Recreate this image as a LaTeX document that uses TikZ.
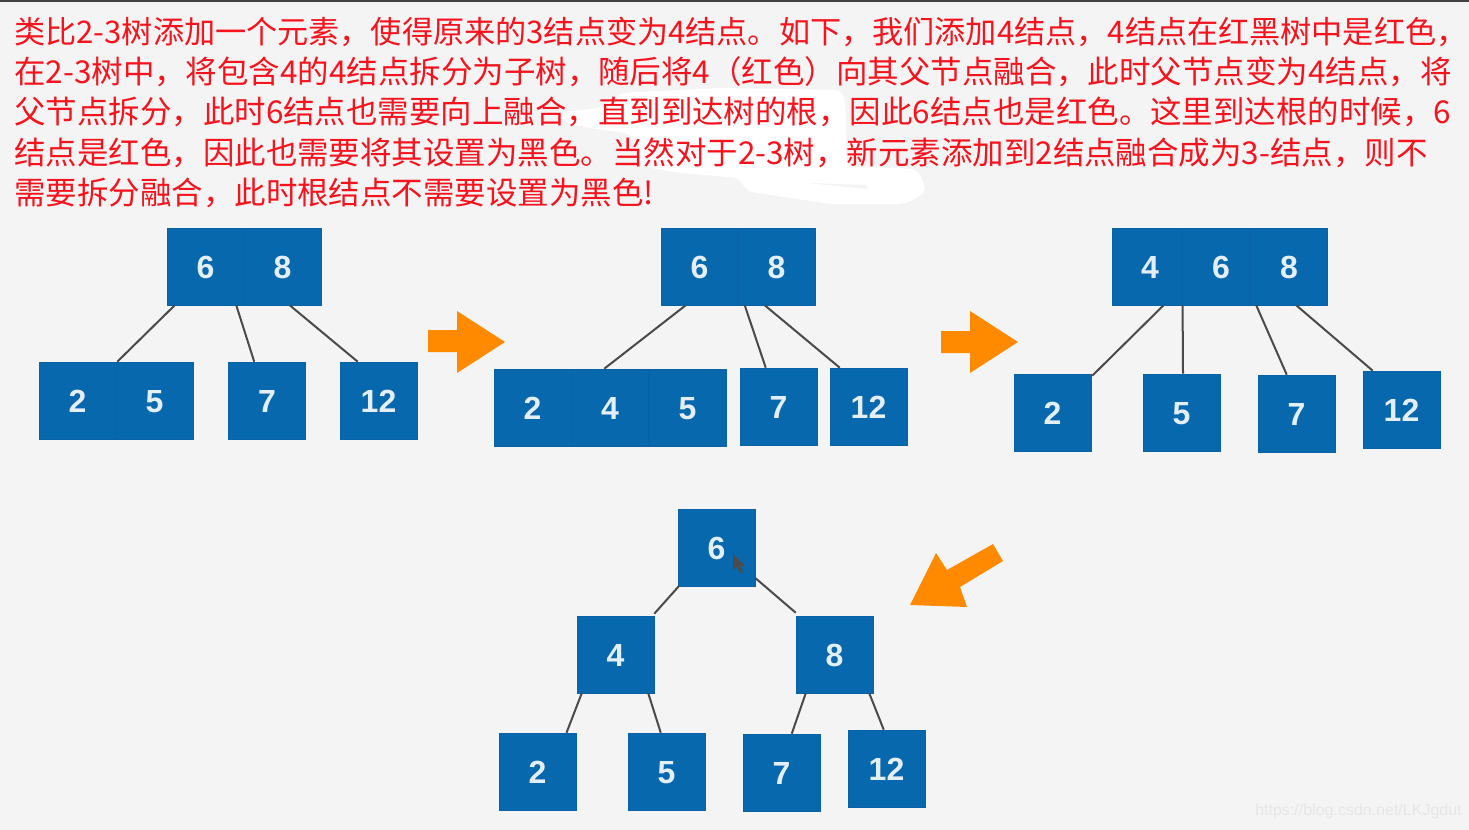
\documentclass[tikz,border=0pt]{standalone}
\usepackage{fontspec}
\setmainfont{Liberation Sans}
\newfontfamily\cjk{Noto Sans CJK SC}
\usetikzlibrary{calc}
\definecolor{pagebg}{HTML}{F4F4F4}
\definecolor{boxblue}{HTML}{0768AE}
\definecolor{boxedge}{HTML}{0A62A6}
\definecolor{digit}{HTML}{E4EEF6}
\definecolor{linkgrey}{HTML}{4A4A4A}
\definecolor{arroworange}{HTML}{FF8A00}
\definecolor{txtred}{HTML}{F5141E}
\definecolor{wmark}{HTML}{E6E6E6}
\tikzset{x=0.75pt,y=-0.75pt,
 cell/.style={draw=boxedge,line width=0.4pt,fill=boxblue,text=digit,minimum width=57.75pt,minimum height=57.75pt,inner sep=0pt,text height=18.7pt,text depth=0pt,font=\fontsize{24}{24}\selectfont\bfseries},
 narrow/.style={cell,minimum width=52pt},
 link/.style={draw=linkgrey,line width=1.5pt},
 bigarrow/.style={fill=arroworange,draw=none},
 para/.style={anchor=west,inner sep=0pt,text=txtred,font=\cjk\fontsize{23.6}{24}\selectfont},
 firstline/.style={para,font=\cjk\fontsize{23.35}{24}\selectfont},
 smear/.style={fill=white,draw=none,rounded corners=6pt},
}
\newcommand{\px}[1]{#1*0.75pt}
\begin{document}
\begin{tikzpicture}
\useasboundingbox (0,0) rectangle (1469,830);
\fill[pagebg] (0,0) rectangle (1469,830);
\fill[black!75] (0,0) rectangle (1469,2);
% white smear
\fill[smear] (562,112) -- (600,108) -- (620,93) -- (720,88) -- (843,90) -- (846,110) -- (846,166) -- (918,169) -- (927,192) -- (905,204) -- (830,204) -- (745,191) -- (741,178) -- (680,173) -- (640,166) -- (632,134) -- (590,128) -- (562,122) -- cycle;
\fill[pagebg] (807,183) -- (867,185) -- (867,189) -- cycle;
% text
\node[firstline] (l1) at (14,32) {类比2-3树添加一个元素，使得原来的3结点变为4结点。如下，我们添加4结点，4结点在红黑树中是红色，};
\node[para] (l2) at (14,72) {在2-3树中，将包含4的4结点拆分为子树，随后将4（红色）向其父节点融合，此时父节点变为4结点，将};
\node[para] (l3) at (14,112) {父节点拆分，此时6结点也需要向上融合，直到到达树的根，因此6结点也是红色。这里到达根的时候，6};
\node[para] (l4) at (14,153) {结点是红色，因此也需要将其设置为黑色。当然对于2-3树，新元素添加到2结点融合成为3-结点，则不};
\node[para] (l5) at (14,193) {需要拆分融合，此时根结点不需要设置为黑色!};
% tree 1
\node[cell] (a6) at (205.5,266.5) {6};
\node[cell] (a8) at (282.5,266.5) {8};
\node[cell] (a2) at (77.5,400.5) {2};
\node[cell] (a5) at (154.5,400.5) {5};
\node[cell] (a7) at (267,400.5) {7};
\node[cell] (a12) at (378.5,400.5) {12};
\draw[link] ([xshift=\px{8}]a6.south west) -- ([xshift=\px{1}]a2.north east);
\draw[link] ([xshift=\px{-8}]a6.south east) -- ([xshift=\px{26}]a7.north west);
\draw[link] ([xshift=\px{46}]a8.south west) -- ([xshift=\px{18}]a12.north west);
% tree 2
\node[cell] (b6) at (699.5,266.5) {6};
\node[cell] (b8) at (776.5,266.5) {8};
\node[cell] (b2) at (532.5,407.5) {2};
\node[cell] (b4) at (610,407.5) {4};
\node[cell] (b5) at (687.5,407.5) {5};
\node[cell] (b7) at (778.5,406.5) {7};
\node[cell] (b12) at (868.5,406.5) {12};
\draw[link] ([xshift=\px{25}]b6.south west) -- ([xshift=\px{33}]b4.north west);
\draw[link] ([xshift=\px{7}]b8.south west) -- ([xshift=\px{26}]b7.north west);
\draw[link] ([xshift=\px{27}]b8.south west) -- ([xshift=\px{10}]b12.north west);
% tree 3
\node[narrow] (c4) at (1146.5,266.5) {\hspace{5.25pt}4};
\node[narrow] (c6) at (1215.5,266.5) {\hspace{8.25pt}6};
\node[cell] (c8) at (1289,266.5) {8};
\node[cell] (c2) at (1052.5,412.5) {2};
\node[cell] (c5) at (1181.5,412.5) {5};
\node[cell] (c7) at (1296.5,413.5) {7};
\node[cell] (c12) at (1401.5,409.5) {12};
\draw[link] ([xshift=\px{52}]c4.south west) -- ([xshift=\px{1},yshift=\px{-2}]c2.north east);
\draw[link] ([xshift=\px{2}]c6.south west) -- ([xshift=\px{1.5}]c5.north);
\draw[link] ([xshift=\px{6}]c8.south west) -- ([xshift=\px{29}]c7.north west);
\draw[link] ([xshift=\px{46}]c8.south west) -- ([xshift=\px{10}]c12.north west);
% tree 4
\node[cell] (d6) at (716.5,547.5) {6};
\node[cell] (d4) at (615.5,654.5) {4};
\node[cell] (d8) at (834.5,654.5) {8};
\node[cell] (d2) at (537.5,771.5) {2};
\node[cell] (d5) at (666.5,771.5) {5};
\node[cell] (d7) at (781.5,772.5) {7};
\node[cell] (d12) at (886.5,768.5) {12};
\draw[link] ([xshift=\px{1}]d6.south west) -- ([yshift=\px{2}]d4.north east);
\draw[link] ([yshift=\px{-30.5}]d6.east) -- ([yshift=\px{3}]d8.north west);
\draw[link] ([xshift=\px{5}]d4.south west) -- ([xshift=\px{29}]d2.north);
\draw[link] ([xshift=\px{-6}]d4.south east) -- ([xshift=\px{33}]d5.north west);
\draw[link] ([xshift=\px{10}]d8.south west) -- ([xshift=\px{49}]d7.north west);
\draw[link] ([xshift=\px{-4}]d8.south east) -- ([xshift=\px{36}]d12.north west);
% arrows
\fill[bigarrow] (428,330) -- (457,330) -- (457,311) -- (505,342) -- (457,373) -- (457,352) -- (428,352) -- cycle;
\fill[bigarrow] (941,331) -- (970,331) -- (970,311) -- (1018,342) -- (970,373) -- (970,353) -- (941,353) -- cycle;
\fill[bigarrow] (910,605) -- (936,553) -- (947,570) -- (993,544) -- (1003,561) -- (960,587) -- (967,607) -- cycle;
% cursor
\fill[black!70] (733,554) -- (745,566) -- (740,566) -- (743,572) -- (740,573) -- (737,567) -- (733,570) -- cycle;
% watermark
\node[anchor=west,inner sep=0pt,text=wmark,font=\fontsize{12}{14}\selectfont] (wm) at (1255,811) {https://blog.csdn.net/LKJgdut};
\end{tikzpicture}
\end{document}
